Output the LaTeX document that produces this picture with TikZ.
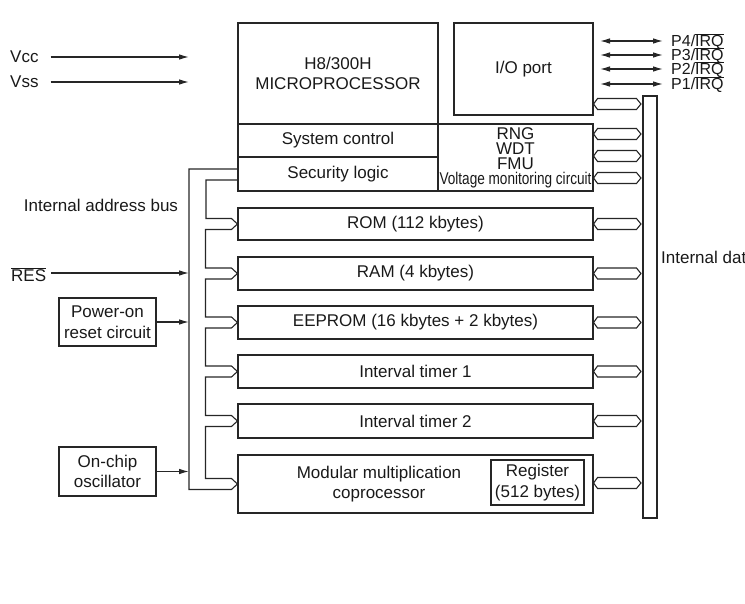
\documentclass[tikz,border=0pt]{standalone}
\usepackage{fontspec}
\setmainfont{Liberation Sans}
\usepackage{graphicx}
\usetikzlibrary{calc,arrows.meta}

\begin{document}
\begin{tikzpicture}[x=1pt,y=-1pt,font=\fontsize{17pt}{20.5pt}\selectfont,
        ln/.style={line width=1.1pt,color=black!85},
        bx/.style={draw=black!85,line width=1.1pt,inner sep=0pt,align=center,text=black!90},
        txt/.style={inner sep=0pt,align=center,text=black!90},
        ar/.style={-{Latex[length=10pt,width=5.5pt]},ln},
        dar/.style={{Latex[length=10pt,width=5.5pt]}-{Latex[length=10pt,width=5.5pt]},ln}]
        \useasboundingbox (0,0) rectangle (745,604);
        % processor block
        \node[bx,minimum width=200pt,minimum height=101pt] (cpu) at (338,73.5) {H8/300H\\MICROPROCESSOR};
        \node[bx,minimum width=200pt,minimum height=33pt] (sysc) at (338,140.5) {System control};
        \node[bx,minimum width=200pt,minimum height=34pt] (sec) at (338,174) {Security logic};
        \node[bx,minimum width=155pt,minimum height=67pt,font=\fontsize{17pt}{15pt}\selectfont] (rng) at (515.5,157.5) {RNG\\WDT\\FMU\\\scalebox{0.8}[1]{Voltage monitoring circuit}};
        \node[bx,minimum width=139pt,minimum height=92pt] (io) at (523.5,69) {I/O port};
        % memories and peripherals
        \node[bx,minimum width=355pt,minimum height=32pt] (rom) at (415.5,224) {ROM (112 kbytes)};
        \node[bx,minimum width=355pt,minimum height=33pt] (ram) at (415.5,273.5) {RAM (4 kbytes)};
        \node[bx,minimum width=355pt,minimum height=33pt] (eep) at (415.5,322.5) {EEPROM (16 kbytes + 2 kbytes)};
        \node[bx,minimum width=355pt,minimum height=33pt] (it1) at (415.5,371.5) {Interval timer 1};
        \node[bx,minimum width=355pt,minimum height=34pt] (it2) at (415.5,421) {Interval timer 2};
        \node[bx,minimum width=355pt,minimum height=58pt] (mod) at (415.5,484) {};
        \node[txt] (modtxt) at (379,484) {Modular multiplication\\coprocessor};
        \node[bx,minimum width=93pt,minimum height=45pt] (reg) at (537.5,482.5) {Register\\(512 bytes)};
        \node[bx,minimum width=14pt,minimum height=422pt] (dbus) at (650,307) {};
        % outside blocks
        \node[bx,minimum width=97pt,minimum height=48pt] (por) at (107.5,322) {Power-on\\reset circuit};
        \node[bx,minimum width=97pt,minimum height=49pt] (osc) at (107.5,471.5) {On-chip\\oscillator};
        \node[txt,anchor=west] (vcc) at (10,57) {Vcc};
        \node[txt,anchor=west] (vss) at (10,82) {Vss};
        \node[txt,anchor=west] (res) at (11,275) {\ensuremath{\overline{\mbox{RES}}}};
        \node[txt] (abus) at (101,205) {Internal address bus};
        \node[txt,anchor=west] (dlbl) at (661,257) {Internal dat};
        \coordinate (ao) at (189,169);
        \coordinate (ai) at (206,180);
        \coordinate (pl) at (600,0);
        % address bus
        \draw[ln] (sec.west |- ao) -- (ao) |- ($(mod.west)+(-6,5.5)$) -- (mod.west);
        \draw[ln] (sec.west |- ai) -- (ai)
          \foreach \b in {rom,ram,eep,it1,it2}{
            |- ($(\b.west)+(-6,-5.5)$) -- (\b.west) -- ($(\b.west)+(-6,5.5)$) -- ++(-26,0)
          }
          |- ($(mod.west)+(-6,-5.5)$) -- (mod.west);
        % data bus taps
        \foreach \b/\y in {io/104,rng/134,rng/156,rng/178,rom/224,ram/273.5,eep/322.5,it1/371.5,it2/421,mod/483}{
          \coordinate (ta) at (\b.east |- 0,\y);
          \coordinate (tb) at (dbus.west |- 0,\y);
          \draw[ln] (ta) -- ++(4,-5.5) -- ($(tb)+(-6,-5.5)$) -- ($(tb)+(-1.5,0)$) -- ($(tb)+(-6,5.5)$) -- ($(ta)+(4,5.5)$) -- cycle;
        }
        % inputs
        \foreach \a in {vcc,vss}{\draw[ar] ([xshift=12pt]\a.east) -- (\a.east -| ao);}
        \draw[ar] ([xshift=5pt]res.east |- 0,273) -- (ao |- 0,273);
        \foreach \a in {por,osc}{\draw[ar] (\a) -- (\a -| ao);}
        % ports
        \foreach \n/\y in {4/41,3/55,2/69,1/84}{
          \node[txt,anchor=west,font=\fontsize{16pt}{18pt}\selectfont] (p\n) at (671,\y) {P\n/\ensuremath{\smash{\overline{\mbox{IRQ}}}}};
          \draw[dar] (pl |- p\n.west) -- ([xshift=-8pt]p\n.west);
        }
      \end{tikzpicture}
\end{document}
